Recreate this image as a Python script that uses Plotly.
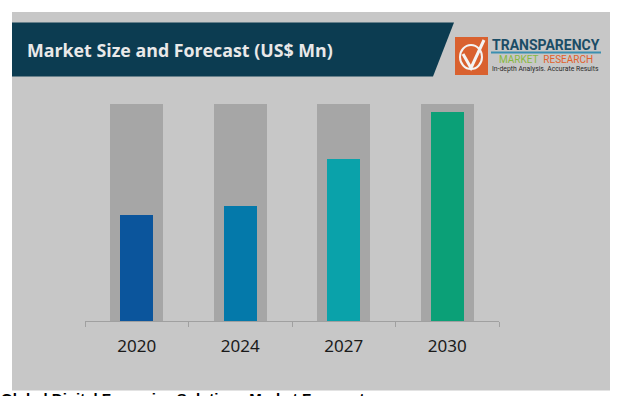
import plotly.graph_objects as go

years = ["2020", "2024", "2027", "2030"]
market_index = [48.8, 53.1, 74.7, 96.2]
full_scale = [100, 100, 100, 100]
bar_colors = ["#0b559c", "#0479aa", "#0aa2aa", "#0ba077"]

W, H = 624, 396
L, R, T, B = 85, 125, 104, 75
PW, PH = W - L - R, H - T - B


def px(x):
    return (x - L) / PW


def py(y):
    return (H - B - y) / PH


fig = go.Figure()
fig.add_trace(go.Bar(x=years, y=full_scale, width=0.51, marker=dict(color="#a6a6a6", line=dict(width=0)),
                     hoverinfo="skip", showlegend=False))
fig.add_trace(go.Bar(x=years, y=market_index, width=0.32, marker=dict(color=bar_colors, line=dict(width=0)),
                     showlegend=False))

shapes = []
# panel background
shapes.append(dict(type="rect", xref="paper", yref="paper", x0=px(12), x1=px(610), y0=py(390.5), y1=py(12),
                   fillcolor="#c7c7c7", line=dict(width=0), layer="below"))
# header band
path = "M {a},{b} L {c},{b} L {d},{e} L {a},{e} Z".format(a=px(12), b=py(22.5), c=px(454), d=px(433), e=py(76.5))
shapes.append(dict(type="path", xref="paper", yref="paper", path=path, fillcolor="#0c3c51",
                   line=dict(width=0), layer="below"))
# logo square
shapes.append(dict(type="rect", xref="paper", yref="paper", x0=px(455), x1=px(488), y0=py(75), y1=py(37),
                   fillcolor="#d9612f", line=dict(width=0), layer="above"))
# logo glyph: circle arc and check
shapes.append(dict(type="circle", xref="paper", yref="paper", x0=px(460), x1=px(482), y0=py(69), y1=py(45),
                   line=dict(color="#f4f4f4", width=2), layer="above"))
chk = "M {a},{b} L {c},{d} L {e},{f}".format(a=px(463), b=py(54), c=px(471), d=py(68), e=px(484), f=py(40))
shapes.append(dict(type="path", xref="paper", yref="paper", path=chk, line=dict(color="#f4f4f4", width=3),
                   layer="above"))
# logo underline
shapes.append(dict(type="line", xref="paper", yref="paper", x0=px(491), x1=px(601), y0=py(52.5), y1=py(52.5),
                   line=dict(color="#3b8fb0", width=2), layer="above"))

annotations = [
    dict(text="<b>Market Size and Forecast (US$ Mn)</b>", x=px(25), y=py(49.5), xref="paper", yref="paper",
         xanchor="left", yanchor="middle", showarrow=False,
         font=dict(family="Open Sans", size=17.8, color="#e9e9e9")),
    dict(text="<b>TRANSPARENCY</b>", x=px(545.5), y=py(44.5), xref="paper", yref="paper",
         xanchor="center", yanchor="middle", showarrow=False,
         font=dict(family="Roboto", size=14, color="#1b4d66")),
    dict(text="<span style='color:#86b940'>MARKET</span>  <span style='color:#e2612b'>RESEARCH</span>",
         x=px(545.5), y=py(59.5), xref="paper", yref="paper", xanchor="center", yanchor="middle",
         showarrow=False, font=dict(family="Roboto", size=10, color="#86b940")),
    dict(text="In-depth Analysis. Accurate Results", x=px(545.5), y=py(69), xref="paper", yref="paper",
         xanchor="center", yanchor="middle", showarrow=False,
         font=dict(family="Roboto", size=6.8, color="#2a2a2a")),
    dict(text="<b>Global Digital Forensics Solutions Market Forecast</b>", x=px(-1), y=py(387.8),
         xref="paper", yref="paper", xanchor="left", yanchor="top", showarrow=False,
         font=dict(family="Liberation Sans", size=15, color="#000000")),
]

fig.update_layout(
    width=W, height=H,
    margin=dict(l=L, r=R, t=T, b=B, pad=0),
    paper_bgcolor="#ffffff",
    plot_bgcolor="rgba(0,0,0,0)",
    barmode="overlay",
    bargap=0,
    shapes=shapes,
    annotations=annotations,
    xaxis=dict(type="category", showgrid=False, zeroline=False, showline=True, linecolor="#a0a0a0",
               linewidth=1, ticks="outside", ticklen=5, tickcolor="#a0a0a0", tickson="boundaries",
               tickfont=dict(family="Noto Sans", size=17, color="#1a1a1a"), ticklabelstandoff=10,
               range=[-0.5, 3.5], fixedrange=True),
    yaxis=dict(visible=False, range=[0, 100], showgrid=False, zeroline=False, fixedrange=True),
)

fig.write_html("out.html", config=dict(displayModeBar=False),
               post_script="document.body.style.margin='0';document.body.style.overflow='hidden';")
